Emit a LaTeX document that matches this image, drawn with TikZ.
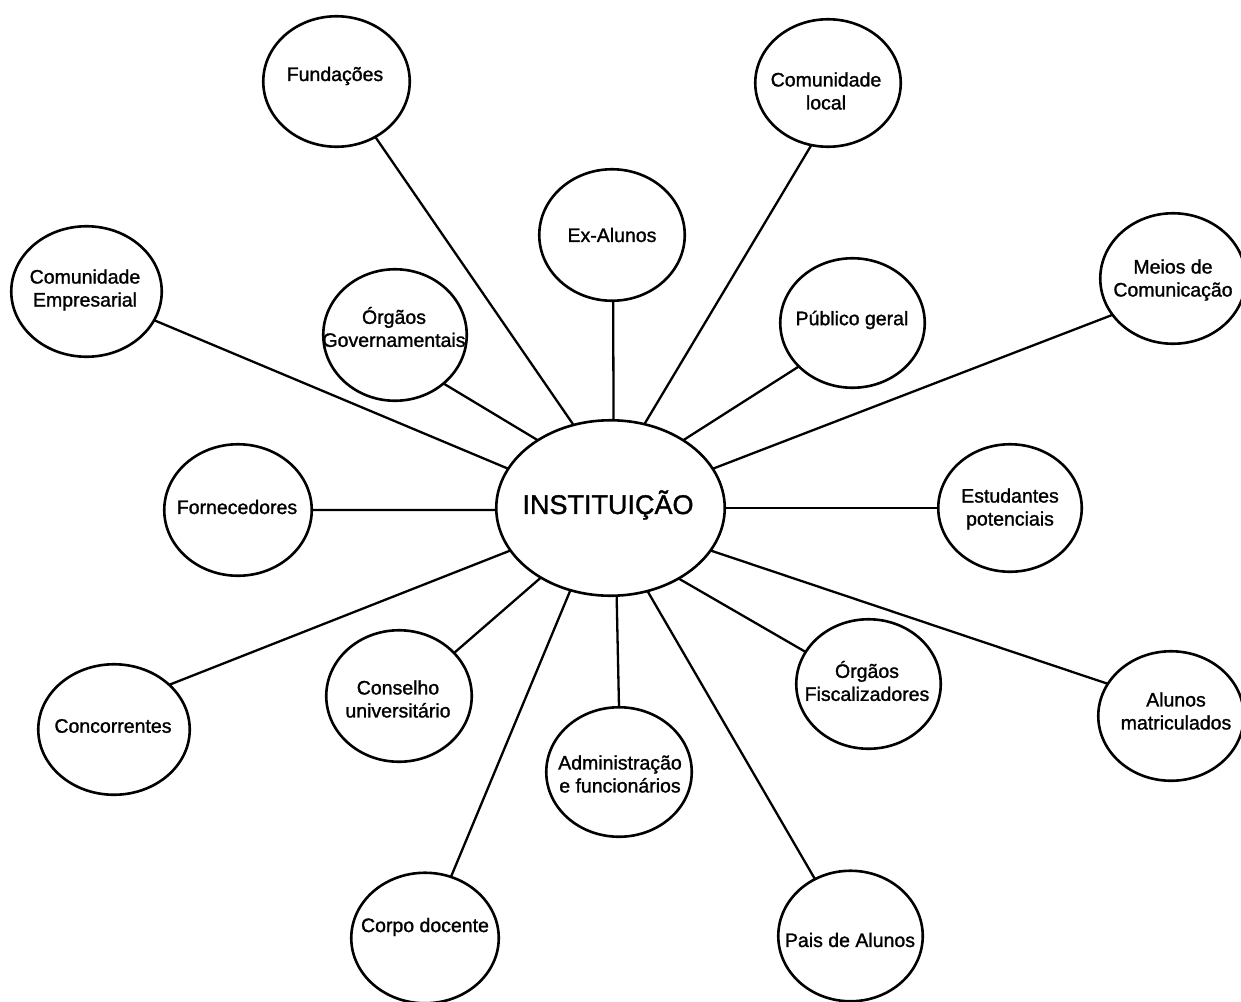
\documentclass[tikz,border=0pt]{standalone}
\usepackage{fontspec}
\setmainfont{Liberation Sans}
\newfontfamily\lblfont{Liberation Sans}[FakeBold=1.3]
\usetikzlibrary{shapes.geometric}
\begin{document}
\begin{tikzpicture}[x=1pt,y=-1pt,
  stake/.style={ellipse, draw, line width=2.6pt, minimum width=145.5pt, minimum height=130.5pt, inner sep=0pt, outer sep=0pt},
  hub/.style={ellipse, draw, line width=2.6pt, minimum width=228.5pt, minimum height=175.5pt, inner sep=0pt, outer sep=0pt},
  lbl/.style={font=\lblfont\fontsize{19.5}{23}\selectfont, align=center, inner sep=0pt},
  hublbl/.style={font=\lblfont\fontsize{27}{32}\selectfont, inner sep=0pt},
  link/.style={line width=2.3pt}]
\useasboundingbox[fill=white] (0,0) rectangle (1241,1001);

% central node
\node[hub] (inst) at (610.5,508) {};
\node[hublbl] (instT) at (608,505) {INSTITUIÇÃO};

% stakeholder ellipses
\node[stake, minimum width=146.5pt] (fund) at (336.5,81.5) {};
\node[stake, minimum height=127.5pt] (comloc) at (828,83) {};
\node[stake, minimum height=131.5pt] (exal) at (612,235) {};
\node[stake, minimum width=150.5pt] (comemp) at (86.5,291.5) {};
\node[stake, minimum width=143.5pt, minimum height=131.5pt] (orggov) at (395,335) {};
\node[stake, minimum width=144.5pt, minimum height=129.5pt] (pub) at (852.5,323) {};
\node[stake] (meios) at (1173,278.5) {};
\node[stake, minimum width=147.5pt, minimum height=131.5pt] (forn) at (238,510) {};
\node[stake, minimum width=143.5pt, minimum height=127.5pt] (estud) at (1010,508) {};
\node[stake, minimum width=151.5pt] (conc) at (114,729.5) {};
\node[stake, minimum height=131.5pt] (cons) at (399,696) {};
\node[stake, minimum height=129.5pt] (adm) at (619,772) {};
\node[stake, minimum width=144.5pt, minimum height=129.5pt] (orgfis) at (868.5,684) {};
\node[stake, minimum height=129.5pt] (alun) at (1171,716) {};
\node[stake, minimum width=147.5pt] (corpo) at (425,938) {};
\node[stake, minimum width=144.5pt] (pais) at (850.5,936) {};

% labels
\node[lbl] (fundT) at (335,76) {Fundações};
\node[lbl] (comlocT) at (826,91) {Comunidade\\local};
\node[lbl] (exalT) at (612,235) {Ex-Alunos};
\node[lbl] (comempT) at (85,290) {Comunidade\\Empresarial};
\node[lbl] (orggovT) at (394,327) {Órgãos\\Governamentais};
\node[lbl] (pubT) at (852,320) {Público geral};
\node[lbl] (meiosT) at (1173,280) {Meios de\\Comunicação};
\node[lbl] (fornT) at (237,507) {Fornecedores};
\node[lbl] (estudT) at (1010,509) {Estudantes\\potenciais};
\node[lbl] (concT) at (113,726) {Concorrentes};
\node[lbl] (consT) at (398,699) {Conselho\\universitário};
\node[lbl] (admT) at (620,774) {Administração\\e funcionários};
\node[lbl] (orgfisT) at (867,681) {Órgãos\\Fiscalizadores};
\node[lbl] (alunT) at (1176,711) {Alunos\\matriculados};
\node[lbl] (corpoT) at (425,927) {Corpo docente};
\node[lbl] (paisT) at (850,940) {Pais de Alunos};

% connectors
\draw[link] (inst.114) -- (fund.-55);
\draw[link] (inst.88) -- (exal.-89);
\draw[link] (inst.68) -- (comloc.-105);
\draw[link] (inst.43) -- (pub.-141);
\draw[link] (inst.21) -- (meios.-149);
\draw[link] (inst.0) -- (estud.180);
\draw[link] (inst.-23) -- (alun.153);
\draw[link] (inst.-46) -- (orgfis.153);
\draw[link] (inst.-66) -- (pais.122);
\draw[link] (inst.-86) -- (adm.90);
\draw[link] (inst.-116) -- (corpo.67);
\draw[link] (inst.-135) -- (cons.38);
\draw[link] (inst.-157) -- (conc.39);
\draw[link] (inst.-179) -- (forn.0);
\draw[link] (inst.159) -- (comemp.-23);
\draw[link] (inst.137) -- (orggov.-45);
\end{tikzpicture}
\end{document}
